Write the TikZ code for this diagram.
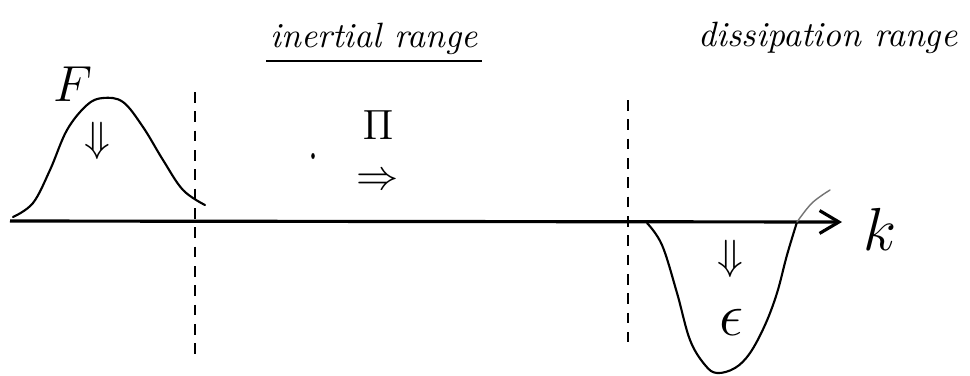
\documentclass[tikz,border=0pt]{standalone}
\usepackage{amsmath, amssymb}
\usepackage{tikz}
\usetikzlibrary{arrows.meta, positioning}

\begin{document}
\begin{tikzpicture}[x=0.01cm, y=-0.01cm, >={Straight Barb[length=5.5pt, width=6.5pt]}]
    \useasboundingbox (0,0) rectangle (970,375);
    \tikzset{
        rangeline/.style={line width=0.6pt, dash pattern=on 3pt off 2.5pt},
        sketch/.style={line width=0.6pt, line cap=round, line join=round},
        rangetitle/.style={anchor=base, inner sep=1pt, font=\itshape},
        symb/.style={inner sep=0pt}
    }

    % 1. Axis k
    \coordinate (kstart) at (10,221);
    \coordinate (kend) at (842,222);
    \draw[->, line width=0.9pt] (kstart) -- (kend);
    \node (klabel) at (880,229) {\LARGE $k$};

    % 2. Range borders
    \coordinate (lefttop) at (195,92);
    \coordinate (leftbot) at (195,362);
    \coordinate (righttop) at (628,100);
    \coordinate (rightbot) at (628,342);
    \draw[rangeline] (lefttop) -- (leftbot);
    \draw[rangeline] (righttop) -- (rightbot);

    % 3. Range titles
    \node[rangetitle] (inertial) at (374,47) {inertial range};
    \draw[line width=0.6pt] ([yshift=-4pt]inertial.base west) -- ([yshift=-4pt]inertial.base east);
    \node[rangetitle] (dissip) at (828,46) {dissipation range};

    % 4. Forcing bump
    \draw[sketch] plot[smooth, tension=0.6] coordinates {
        (13,217) (33,203) (50,170) (67,130) (87,105) (103,98)
        (123,102) (143,127) (163,160) (183,190) (205,205)};
    \node (force) at (73,84) {\Large $F$};
    \node (forcein) at (97,141) {\large $\Downarrow$};

    % 5. Flux through the inertial range
    \fill (313,156) ellipse (1.8 and 3);
    \node[symb, align=center, font=\large] (flux) at (378,150) {$\Pi$\\$\Rightarrow$};

    % 6. Dissipation dip
    \draw[sketch] plot[smooth, tension=0.6] coordinates {
        (647,223) (662,245) (677,293) (690,340) (705,365) (717,373)
        (735,368) (750,353) (765,325) (777,293) (787,255) (797,222)};
    \draw[sketch, black!55, line width=0.4pt] plot[smooth, tension=0.6] coordinates {
        (797,222) (812,203) (830,190)};
    \node (dissout) at (730,259) {\large $\Downarrow$};
    \node (eps) at (731,322) {\LARGE $\epsilon$};
\end{tikzpicture}
\end{document}
